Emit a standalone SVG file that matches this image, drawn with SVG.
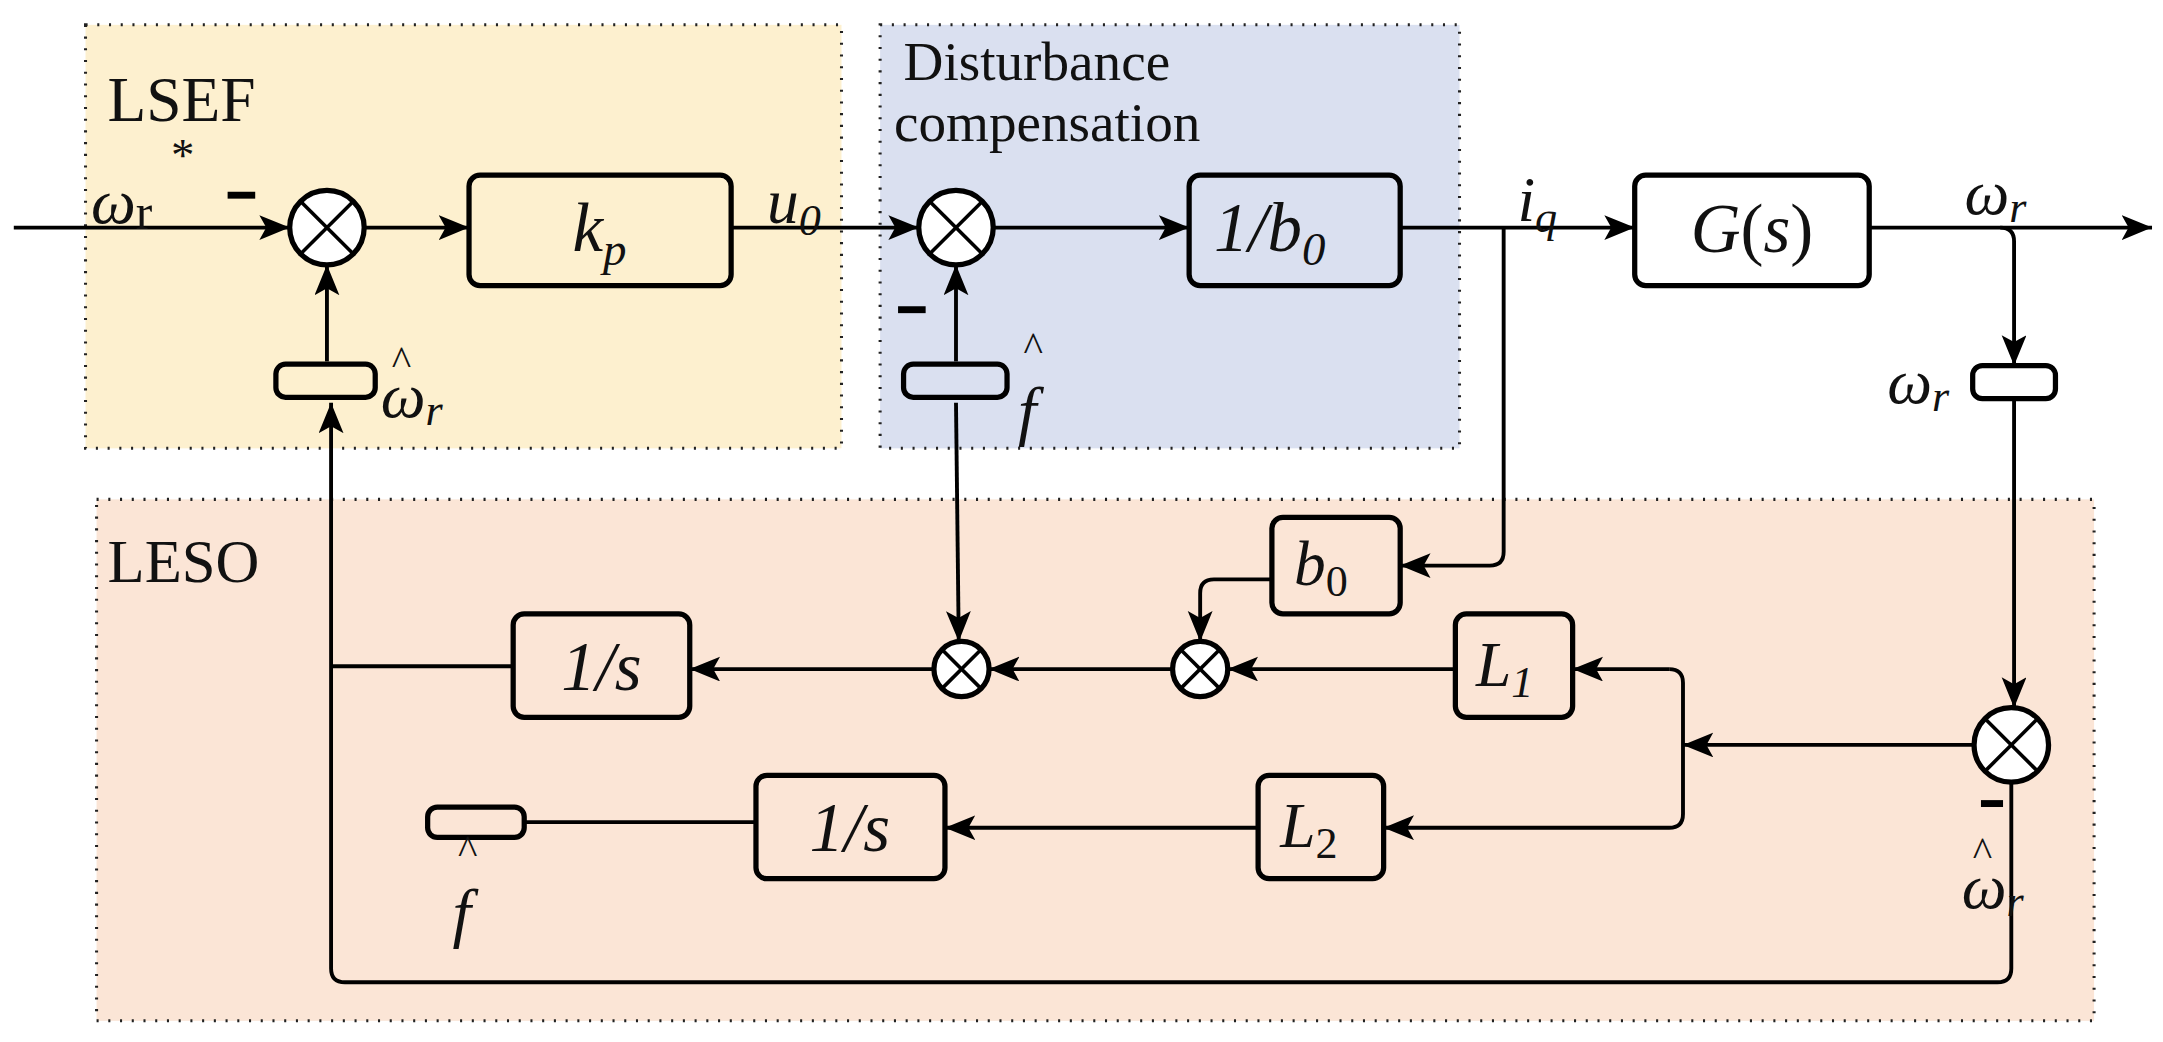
<svg xmlns="http://www.w3.org/2000/svg" width="2163" height="1042" viewBox="0 0 2163 1042">
<style>
.reg{stroke:#222;stroke-width:2.2;stroke-dasharray:1.5 7}
.box{fill:none;stroke:#000;stroke-width:3.8}
.bx{stroke:#000;stroke-width:3.8}
.ln{fill:none;stroke:#000;stroke-width:2.8}
.sum{fill:#fff;stroke:#000;stroke-width:3.8}
.x{stroke:#000;stroke-width:2.6}
.t{font-family:"Liberation Serif",serif;fill:#111}
.m{font-family:"Liberation Serif",serif;font-style:italic;fill:#111}
</style>
<defs>
<marker id="a" markerUnits="userSpaceOnUse" markerWidth="26" markerHeight="20" refX="22" refY="9" orient="auto"><path d="M0,0 L22,9 L0,18 L5,9 Z" fill="#000"/></marker>
</defs>
<g transform="scale(1.3795)">
<rect class="reg" x="62" y="18" width="548" height="307" fill="#fdf0cf"/>
<rect class="reg" x="638" y="18" width="420" height="307" fill="#dae0f0"/>
<rect class="reg" x="70" y="362" width="1448" height="378" fill="#fbe5d6"/>
<text class="t" x="78" y="88" font-size="46">LSEF</text>
<text class="t" x="655" y="58" font-size="40">Disturbance</text>
<text class="t" x="648" y="102" font-size="40">compensation</text>
<text class="t" x="78" y="422" font-size="44">LESO</text>

<g id="connectors">
<line class="ln" x1="10" y1="165" x2="210" y2="165" marker-end="url(#a)"/>
<line class="ln" x1="264" y1="165" x2="340" y2="165" marker-end="url(#a)"/>
<line class="ln" x1="530" y1="165" x2="666" y2="165" marker-end="url(#a)"/>
<line class="ln" x1="720" y1="165" x2="862" y2="165" marker-end="url(#a)"/>
<line class="ln" x1="1015" y1="165" x2="1185" y2="165" marker-end="url(#a)"/>
<line class="ln" x1="1355" y1="165" x2="1560" y2="165" marker-end="url(#a)"/>
<path class="ln" d="M1450,165 Q1460,165 1460,175 L1460,265" marker-end="url(#a)"/>
<line class="ln" x1="1460" y1="290" x2="1460" y2="513" marker-end="url(#a)"/>
<path class="ln" d="M1458,567 L1458,702 Q1458,712 1448,712 L250,712 Q240,712 240,702 L240,292" marker-end="url(#a)"/>
<line class="ln" x1="237" y1="262" x2="237" y2="192" marker-end="url(#a)"/>
<line class="ln" x1="693" y1="262" x2="693" y2="192" marker-end="url(#a)"/>
<line class="ln" x1="693" y1="292" x2="695" y2="465" marker-end="url(#a)"/>
<path class="ln" d="M1090,165 L1090,400 Q1090,410 1080,410 L1015,410" marker-end="url(#a)"/>
<path class="ln" d="M922,420 L880,420 Q870,420 870,430 L870,465" marker-end="url(#a)"/>
<line class="ln" x1="1055" y1="485" x2="890" y2="485" marker-end="url(#a)"/>
<line class="ln" x1="850" y1="485" x2="717" y2="485" marker-end="url(#a)"/>
<line class="ln" x1="677" y1="485" x2="500" y2="485" marker-end="url(#a)"/>
<line class="ln" x1="372" y1="483" x2="240" y2="483"/>
<line class="ln" x1="1431" y1="540" x2="1220" y2="540" marker-end="url(#a)"/>
<path class="ln" d="M1210,485 Q1220,485 1220,495 L1220,590 Q1220,600 1210,600 L1003,600" marker-end="url(#a)"/>
<line class="ln" x1="1210" y1="485" x2="1140" y2="485" marker-end="url(#a)"/>
<line class="ln" x1="912" y1="600" x2="685" y2="600" marker-end="url(#a)"/>
<line class="ln" x1="548" y1="596" x2="380" y2="596"/>
</g>

<g id="sum1"><ellipse class="sum" cx="237" cy="165" rx="27" ry="27"/><line class="x" x1="218" y1="146" x2="256" y2="184"/><line class="x" x1="256" y1="146" x2="218" y2="184"/></g>
<g id="sum2"><ellipse class="sum" cx="693" cy="165" rx="27" ry="27"/><line class="x" x1="674" y1="146" x2="712" y2="184"/><line class="x" x1="712" y1="146" x2="674" y2="184"/></g>
<g id="sum3"><ellipse class="sum" cx="697" cy="485" rx="20" ry="20"/><line class="x" x1="683" y1="471" x2="711" y2="499"/><line class="x" x1="711" y1="471" x2="683" y2="499"/></g>
<g id="sum4"><ellipse class="sum" cx="870" cy="485" rx="20" ry="20"/><line class="x" x1="856" y1="471" x2="884" y2="499"/><line class="x" x1="884" y1="471" x2="856" y2="499"/></g>
<g id="sum5"><ellipse class="sum" cx="1458" cy="540" rx="27" ry="27"/><line class="x" x1="1439" y1="521" x2="1477" y2="559"/><line class="x" x1="1477" y1="521" x2="1439" y2="559"/></g>

<g id="kp"><rect class="box" x="340" y="127" width="190" height="80" rx="8"/><text class="m" x="415" y="182" font-size="50">k<tspan font-size="34" dy="10">p</tspan></text></g>
<g id="inv_b0"><rect class="box" x="862" y="127" width="153" height="80" rx="8"/><text class="m" x="880" y="182" font-size="50">1/b<tspan font-size="34" dy="10">0</tspan></text></g>
<g id="Gs"><rect class="box" x="1185" y="127" width="170" height="80" rx="8"/><text class="m" x="1270" y="183" font-size="50" text-anchor="middle">G<tspan font-style="normal">(</tspan>s<tspan font-style="normal">)</tspan></text></g>
<g id="b0"><rect class="box" x="922" y="375" width="93" height="70" rx="8"/><text class="m" x="938" y="424" font-size="46">b<tspan font-size="32" font-style="normal" dy="8">0</tspan></text></g>
<g id="L1"><rect class="box" x="1055" y="445" width="85" height="75" rx="8"/><text class="m" x="1070" y="497" font-size="46">L<tspan font-size="32" dy="8">1</tspan></text></g>
<g id="L2"><rect class="box" x="912" y="562" width="91" height="75" rx="8"/><text class="m" x="928" y="614" font-size="46">L<tspan font-size="32" font-style="normal" dy="8">2</tspan></text></g>
<g id="int1"><rect class="box" x="372" y="445" width="128" height="75" rx="8"/><text class="m" x="436" y="500" font-size="50" text-anchor="middle">1/s</text></g>
<g id="int2"><rect class="box" x="548" y="562" width="137" height="75" rx="8"/><text class="m" x="616" y="617" font-size="50" text-anchor="middle">1/s</text></g>

<g id="hold1"><rect class="bx" x="200" y="264" width="72" height="24" rx="7" fill="#fdf0cf"/></g>
<g id="hold2"><rect class="bx" x="655" y="264" width="75" height="24" rx="7" fill="#dae0f0"/></g>
<g id="hold3"><rect class="bx" x="1430" y="265" width="60" height="24" rx="7" fill="#fff"/></g>
<g id="hold4"><rect class="bx" x="310" y="585" width="70" height="22" rx="7" fill="#fbe5d6"/></g>

<g id="labels">
<text class="m" x="66" y="162" font-size="46">ω<tspan font-style="normal" font-size="36" dy="4">r</tspan></text>
<text class="t" x="124" y="124" font-size="34">*</text>
<rect x="165" y="139" width="20" height="5" fill="#000"/>
<rect x="651" y="222" width="20" height="5" fill="#000"/>
<rect x="1436" y="580" width="16" height="5" fill="#000"/>
<text class="m" x="556" y="162" font-size="46">u<tspan font-size="32" dy="8">0</tspan></text>
<text class="m" x="1100" y="160" font-size="46">i<tspan font-size="32" dy="8">q</tspan></text>
<text class="m" x="1424" y="155" font-size="46">ω<tspan font-size="32" dy="6">r</tspan></text>
<text class="m" x="1368" y="292" font-size="46">ω<tspan font-size="32" dy="6">r</tspan></text>
<text class="m" x="276" y="302" font-size="46">ω<tspan font-size="32" dy="6">r</tspan></text>
<text class="t" x="284" y="272" font-size="30">^</text>
<text class="m" x="1422" y="658" font-size="46">ω<tspan font-size="32" dy="6">r</tspan></text>
<text class="t" x="1430" y="628" font-size="30">^</text>
<text class="m" x="738" y="314" font-size="48">f</text>
<text class="t" x="742" y="262" font-size="30">^</text>
<text class="m" x="328" y="678" font-size="48">f</text>
<text class="t" x="332" y="626" font-size="30">^</text>
</g>
</g>
</svg>
